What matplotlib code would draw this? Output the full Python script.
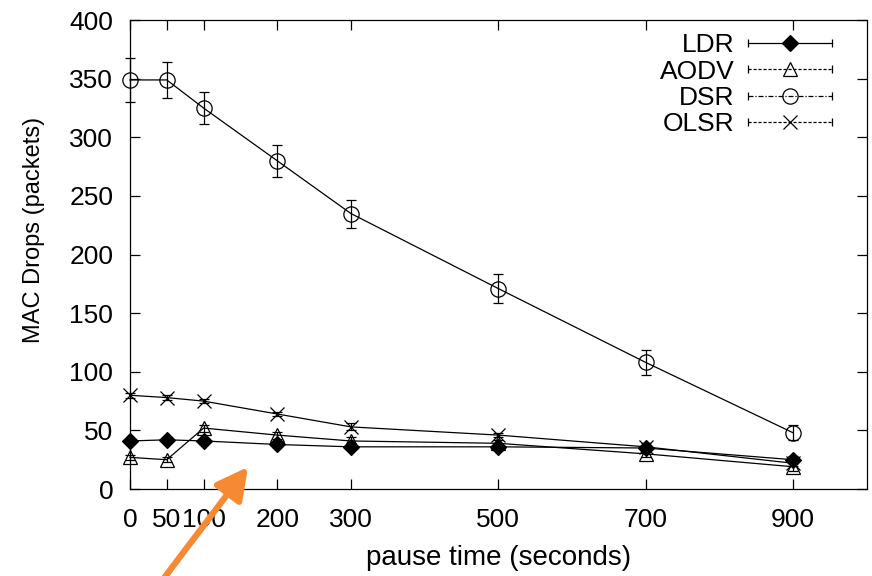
import numpy as np
import matplotlib
matplotlib.use("Agg")
import matplotlib.pyplot as plt
from matplotlib.lines import Line2D
from matplotlib.legend_handler import HandlerLine2D

plt.rcParams['font.family'] = ['Liberation Sans', 'DejaVu Sans']

pause = [0, 50, 100, 200, 300, 500, 700, 900]
xticks = [0, 50, 100, 200, 300, 500, 700, 900]

ldr = [41, 42, 41, 38, 36, 36, 35, 25]
ldr_err = [2, 2, 2, 2, 2, 2, 2, 3]
aodv = [27, 25, 52, 46, 41, 39, 30, 19]
aodv_err = [2, 2, 3, 3, 3, 3, 3, 4]
dsr = [349, 349, 325, 280, 235, 171, 108, 48]
dsr_err = [19, 15, 14, 13.5, 12, 12.5, 10.5, 6.5]
olsr = [80, 78, 75, 64, 53, 46, 36, 22]
olsr_err = [2, 2, 2, 2, 3, 2, 3, 2]


class CapHandler(HandlerLine2D):
    # gnuplot style key sample: |---marker---|
    def create_artists(self, legend, orig_handle, xdescent, ydescent,
                       width, height, fontsize, trans):
        arts = super().create_artists(legend, orig_handle, xdescent, ydescent,
                                      width, height, fontsize, trans)
        y = (height - ydescent) / 2
        caps = Line2D([-xdescent, -xdescent + width], [y, y], ls='none',
                      marker='|', ms=6, mew=0.9, color='k', transform=trans)
        return arts + [caps]


fig = plt.figure(figsize=(8.72, 5.76), dpi=100)
ax = fig.add_axes([0.149, 0.151, 0.845, 0.814])

series = [
    ("LDR", ldr, ldr_err, 'D', 8, 'k', '-'),
    ("AODV", aodv, aodv_err, '^', 10, 'none', (0, (2.5, 1.5))),
    ("DSR", dsr, dsr_err, 'o', 11, 'none', (0, (4, 1.5, 1, 1.5))),
    ("OLSR", olsr, olsr_err, 'x', 10, 'none', (0, (2.5, 1.5))),
]

handles = []
for name, y, e, m, ms, fc, ls in series:
    ax.errorbar(pause, y, yerr=e, color='k', lw=0.9, elinewidth=0.9,
                capsize=3.5, capthick=0.9, marker=m, ms=ms, mfc=fc,
                mec='k', mew=0.9, clip_on=False, zorder=3)
    handles.append(Line2D([], [], color='k', lw=0.9, ls=ls, marker=m,
                          ms=ms, mfc=fc, mec='k', mew=0.9))

ax.set_xlim(0, 1000)
ax.set_ylim(0, 400)
ax.set_xticks(xticks)
ax.set_yticks(np.arange(0, 401, 50))
ax.tick_params(direction='in', length=7, width=0.9, top=True, right=True,
               labelsize=19)
ax.tick_params(axis='x', pad=14)
ax.tick_params(axis='y', pad=12)
for s in ax.spines.values():
    s.set_linewidth(0.9)

ax.set_xlabel("pause time (seconds)", fontsize=20, labelpad=9)
ax.set_ylabel("MAC Drops (packets)", fontsize=17)
ax.yaxis.set_label_coords(-0.115, 0.553)

ax.legend(handles, ["LDR", "AODV", "DSR", "OLSR"], loc='upper right',
          bbox_to_anchor=(0.985, 1.023), frameon=False, markerfirst=False,
          fontsize=19, handlelength=3.2, labelspacing=0.09,
          handletextpad=0.5, numpoints=1,
          handler_map={Line2D: CapHandler()})

# orange pointer arrow overlaid on the figure
ax.annotate("", xy=(248, 109), xytext=(158, -10),
            xycoords='figure pixels', textcoords='figure pixels',
            annotation_clip=False,
            arrowprops=dict(arrowstyle='-|>,head_length=1.9,head_width=1.0',
                            color='#f58a33', lw=4.5, shrinkA=0, shrinkB=0))

fig.savefig("out.png", dpi=100)
